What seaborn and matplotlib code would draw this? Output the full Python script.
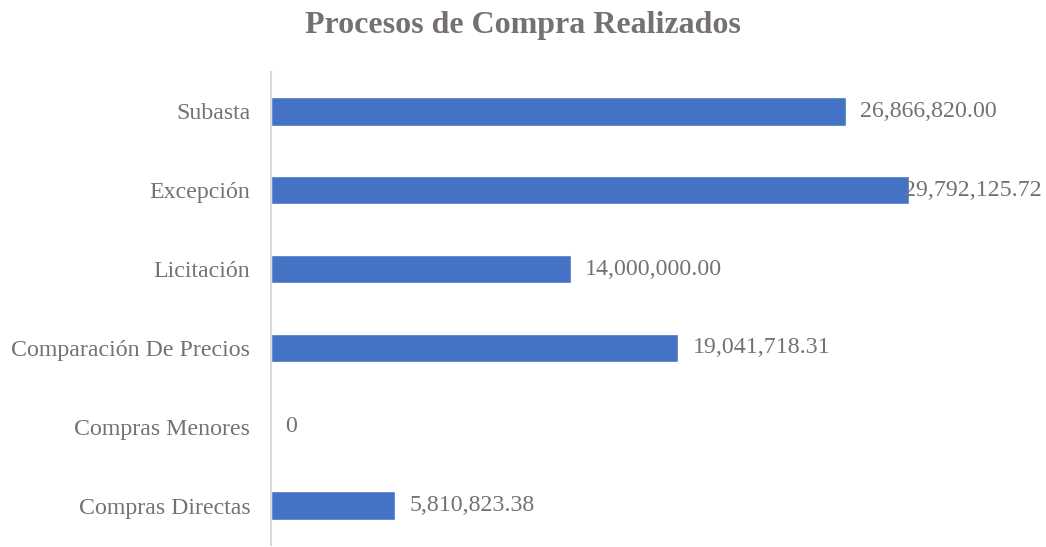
import pandas as pd
import matplotlib.pyplot as plt
import seaborn as sns

categorias = ['Subasta', 'Excepción', 'Licitación', 'Comparación De Precios',
              'Compras Menores', 'Compras Directas']
montos = [26866820.00, 29792125.72, 14000000.00, 19041718.31, 0, 5810823.38]
etiquetas = ['26,866,820.00', '29,792,125.72', '14,000,000.00', '19,041,718.31',
             '0', '5,810,823.38']

df = pd.DataFrame({'categoria': categorias, 'monto': montos})

sns.set_style('white')
plt.rcParams['font.family'] = ['Liberation Serif', 'DejaVu Serif']
gris = '#757171'

fig = plt.figure(figsize=(10.46, 5.47), dpi=100)
ax = fig.add_axes([0.2591, 0.0037, 0.9751 - 0.2591, 0.8684 - 0.0037])
sns.barplot(data=df, x='monto', y='categoria', orient='h', color='#4472C4',
            saturation=1, width=0.36, ax=ax)

ax.set_xlim(0, 35000000)
ax.set_xlabel('')
ax.set_ylabel('')
ax.set_xticks([])
ax.tick_params(axis='y', length=0, pad=15, labelsize=17.2, labelcolor=gris)
for s in ['top', 'right', 'bottom']:
    ax.spines[s].set_visible(False)
ax.spines['left'].set_color('#d9d9d9')
ax.spines['left'].set_linewidth(1.5)

textos = []
for i, (v, t) in enumerate(zip(montos, etiquetas)):
    textos.append(ax.annotate(t, (v, i), xytext=(10, 0), textcoords='offset points',
                              va='center', ha='left', fontsize=17.2, color=gris))

fig.text(0.5, 1 - 25 / 547, 'Procesos de Compra Realizados', ha='center',
         va='center', fontsize=23, fontweight='bold', color=gris)

# como en Excel: la etiqueta que no cabe se corre hacia la izquierda
fig.canvas.draw()
r = fig.canvas.get_renderer()
ancho = fig.bbox.width
for txt in textos:
    bb = txt.get_window_extent(r)
    if bb.x1 > ancho - 4:
        dx = (bb.x1 - (ancho - 4)) * 72 / fig.dpi
        txt.set_position((10 - dx, 0))

fig.savefig('out.png', dpi=100)
